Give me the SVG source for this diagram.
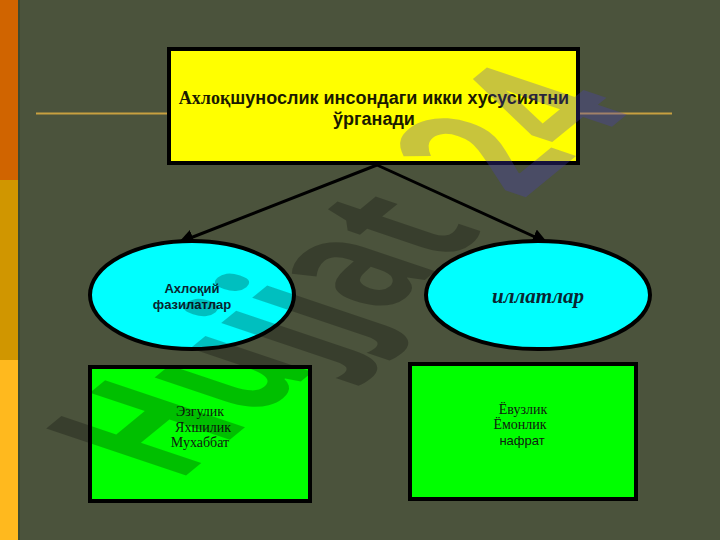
<svg xmlns="http://www.w3.org/2000/svg" width="720" height="540" viewBox="0 0 720 540">
<defs>
<style>
.box{stroke:#000;stroke-width:4}
.conn{stroke:#000;stroke-width:3;fill:none}
.sans{font-family:"Liberation Sans",Arial,sans-serif}
.serif{font-family:"Liberation Serif","Times New Roman",serif}
</style>
<marker id="arr" viewBox="0 0 10 10" refX="9" refY="5" markerWidth="5" markerHeight="5" orient="auto" markerUnits="strokeWidth">
<path d="M0,0 L10,5 L0,10 z" fill="#000"/>
</marker>
</defs>
<rect x="0" y="0" width="720" height="540" fill="#4b533c"/>
<rect x="0" y="0" width="18" height="180" fill="#d06400"/>
<rect x="0" y="180" width="18" height="180" fill="#d09600"/>
<rect x="0" y="360" width="18" height="180" fill="#ffb91e"/>
<rect x="18" y="0" width="2" height="540" fill="#3d4a30"/>
<line x1="36" y1="113.5" x2="672" y2="113.5" stroke="#c8a040" stroke-width="2"/>

<g id="top">
<rect class="box" x="169" y="49" width="409" height="114" fill="#ffff00"/>
<text x="374" y="104" text-anchor="middle" font-size="18" font-weight="bold" class="sans" fill="#1a1a00"><tspan class="serif">Ахлоқ</tspan>шунослик инсондаги икки хусусиятни</text>
<text x="374" y="125" text-anchor="middle" font-size="18" font-weight="bold" class="sans" fill="#1a1a00">ўрганади</text>
</g>

<g id="connectors">
<line class="conn" x1="377" y1="165" x2="180" y2="242" marker-end="url(#arr)"/>
<line class="conn" x1="377" y1="165" x2="546" y2="242" marker-end="url(#arr)"/>
</g>

<g id="left-ellipse">
<ellipse class="box" cx="192" cy="295" rx="102" ry="54" fill="#00ffff"/>
<text x="192" y="293" text-anchor="middle" font-size="13" font-weight="bold" class="sans" fill="#0a2530">Ахлоқий</text>
<text x="192" y="309" text-anchor="middle" font-size="13" font-weight="bold" class="sans" fill="#0a2530">фазилатлар</text>
</g>

<g id="right-ellipse">
<ellipse class="box" cx="538" cy="295" rx="112" ry="54" fill="#00ffff"/>
<text x="538" y="303" text-anchor="middle" font-size="21" font-weight="bold" font-style="italic" class="serif" fill="#0a2530">иллатлар</text>
</g>

<g id="left-box">
<rect class="box" x="90" y="367" width="220" height="134" fill="#00ff00"/>
<text x="200" y="416" text-anchor="middle" font-size="14" class="serif" fill="#102010">Эзгулик</text>
<text x="203" y="432" text-anchor="middle" font-size="14" class="serif" fill="#102010">Яхшилик</text>
<text x="200" y="447" text-anchor="middle" font-size="14" class="serif" fill="#102010">Мухаббат</text>
</g>

<g id="right-box">
<rect class="box" x="410" y="364" width="226" height="135" fill="#00ff00"/>
<text x="523" y="414" text-anchor="middle" font-size="14" class="serif" fill="#102010">Ёвузлик</text>
<text x="520" y="429" text-anchor="middle" font-size="14" class="serif" fill="#102010">Ёмонлик</text>
<text x="522" y="445" text-anchor="middle" font-size="13" class="sans" fill="#102010">нафрат</text>
</g>

<g id="watermark" transform="matrix(0.504 -0.413 0.98 0.33 177 483)">
<text x="0" y="0" font-size="200" font-weight="bold" font-family="'Open Sans','DejaVu Sans',sans-serif"><tspan fill="#000" fill-opacity="0.25">Hujjat</tspan><tspan dx="70" fill="#4a3cc8" fill-opacity="0.3">24</tspan></text>
</g>
</svg>
